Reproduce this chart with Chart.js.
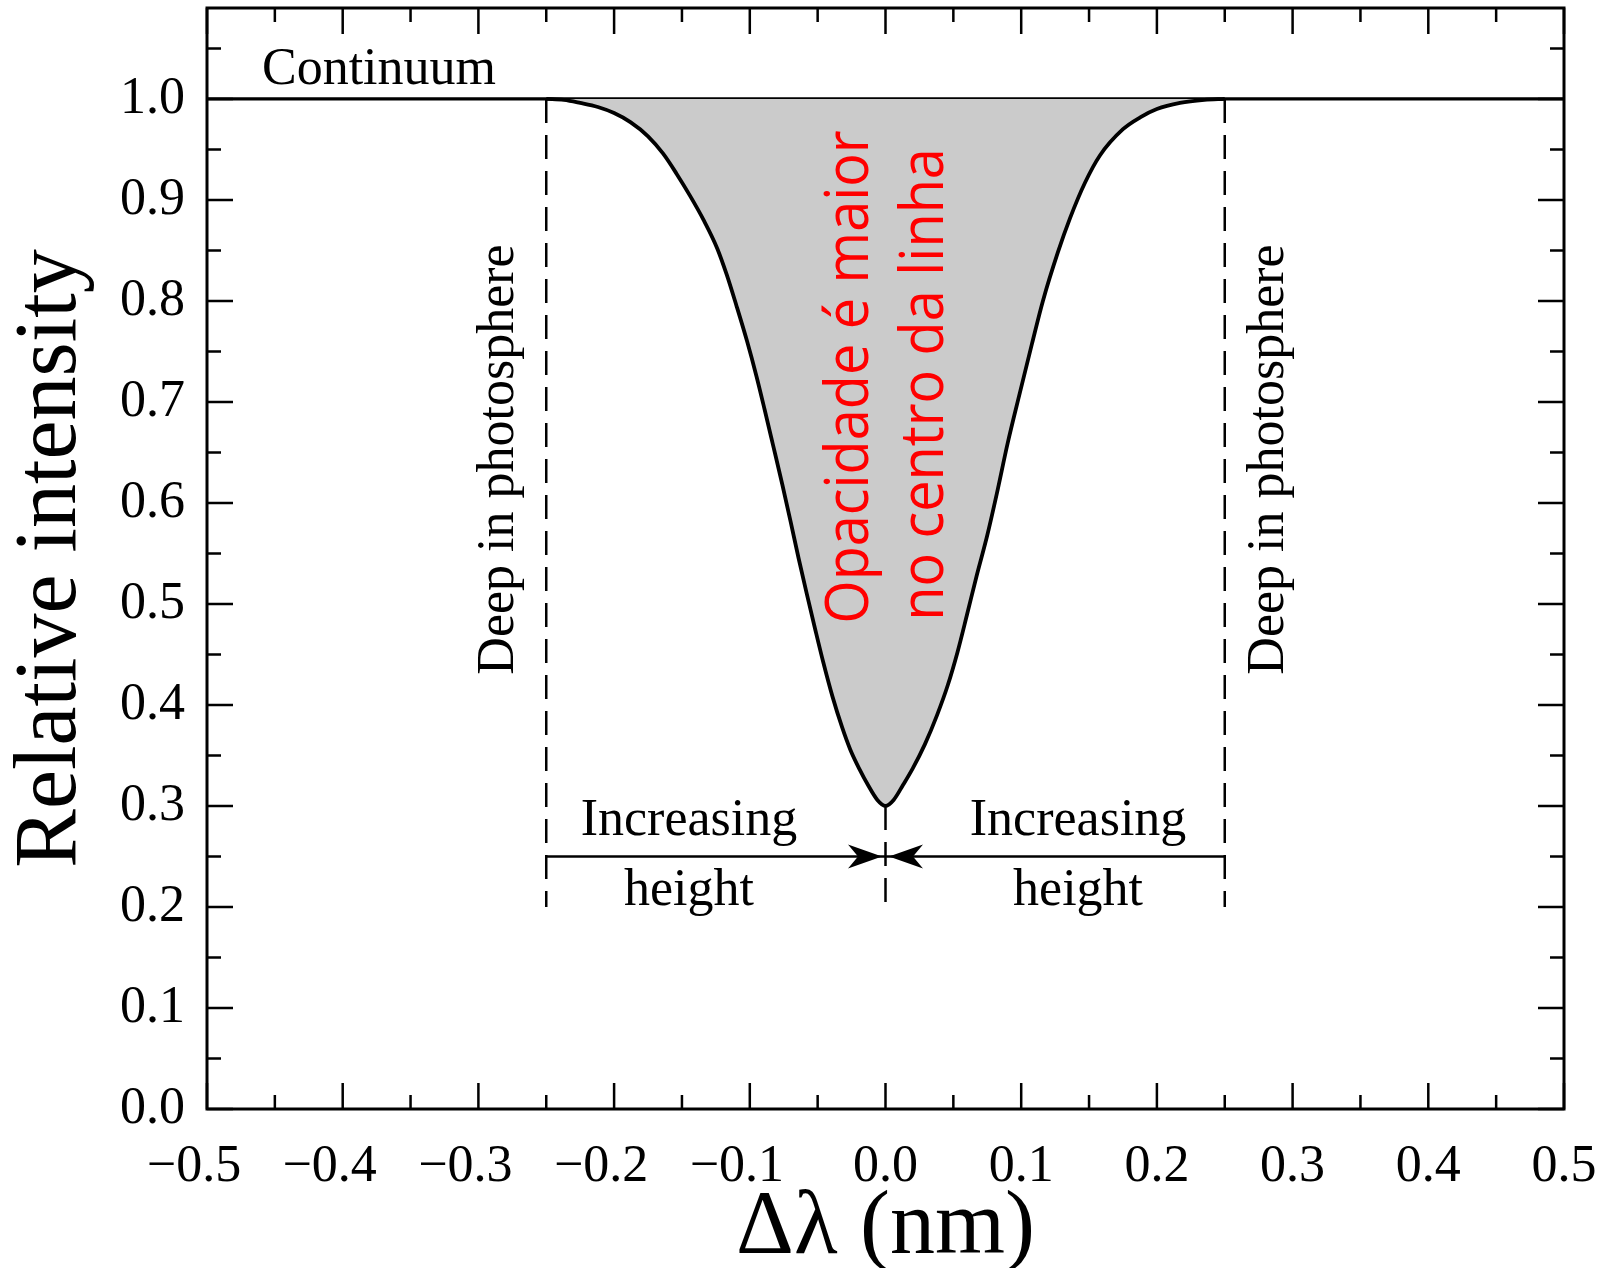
<!DOCTYPE html>
<html>
<head>
<meta charset="utf-8">
<script src="https://cdn.jsdelivr.net/npm/chart.js@4.4.1/dist/chart.umd.min.js"></script>
<style>
  html, body { margin: 0; padding: 0; background: #fff; }
  #wrap { width: 1606px; height: 1268px; }
</style>
</head>
<body>
<div id="wrap"><canvas id="myChart" width="1606" height="1268"></canvas></div>
<script>
        // absorption line profile
        const profileX = [-0.25, -0.237, -0.225, -0.212, -0.2, -0.188, -0.175, -0.164, -0.154, -0.144, -0.134, -0.124, -0.117, -0.11, -0.102, -0.095, -0.089, -0.083,
                          -0.076, -0.07, -0.064, -0.058, -0.052, -0.046, -0.039, -0.032, -0.026, -0.019, -0.013, -0.006, 0,
                          0.006, 0.013, 0.02, 0.029, 0.038, 0.046, 0.053, 0.06, 0.067, 0.075, 0.082, 0.09, 0.099, 0.108, 0.116, 0.127, 0.136, 0.147, 0.158,
                          0.175, 0.188, 0.2, 0.217, 0.235, 0.25];
        const profileY = [1.0, 0.999, 0.996, 0.992, 0.986, 0.977, 0.963, 0.946, 0.926, 0.904, 0.88, 0.852, 0.826, 0.796, 0.76, 0.725, 0.692, 0.658,
                          0.618, 0.582, 0.545, 0.51, 0.476, 0.443, 0.408, 0.378, 0.356, 0.336, 0.321, 0.306, 0.3,
                          0.306, 0.321, 0.337, 0.361, 0.39, 0.42, 0.452, 0.489, 0.527, 0.568, 0.609, 0.659, 0.709, 0.758, 0.8, 0.848, 0.882, 0.917, 0.944,
                          0.97, 0.982, 0.99, 0.996, 0.999, 1.0];

        const continuumX = [-0.5, 0.5];
        const continuumY = [1.0, 1.0];

        // dashed markers (x, top, bottom)
        const markerX = [-0.25, 0, 0.25];
        const markerTop = [1.0, 0.3, 1.0];
        const markerBottom = [0.2, 0.2, 0.2];

        // "increasing height" arrows
        const arrowY = 0.25;
        const arrowFrom = [-0.25, 0.25];
        const arrowTo = [0, 0];

        const xTickLabels = ['\u22120.5', '\u22120.4', '\u22120.3', '\u22120.2', '\u22120.1', '0.0', '0.1', '0.2', '0.3', '0.4', '0.5'];
        const yTickLabels = ['0.0', '0.1', '0.2', '0.3', '0.4', '0.5', '0.6', '0.7', '0.8', '0.9', '1.0'];

        const serif = "'Liberation Serif', 'Times New Roman', serif";

        // text placed on the plot (data units)
        const notes = [
            {text: 'Continuum', x: -0.4595, y: 1.0143, rot: 0, align: 'left', font: '52px ' + serif, color: '#000'},
            {text: 'Increasing', x: -0.1448, y: 0.2714, rot: 0, align: 'center', font: '52px ' + serif, color: '#000'},
            {text: 'height', x: -0.1448, y: 0.2021, rot: 0, align: 'center', font: '52px ' + serif, color: '#000'},
            {text: 'Increasing', x: 0.1419, y: 0.2714, rot: 0, align: 'center', font: '52px ' + serif, color: '#000'},
            {text: 'height', x: 0.1419, y: 0.2021, rot: 0, align: 'center', font: '52px ' + serif, color: '#000'},
            {text: 'Deep in photosphere', x: -0.2745, y: 0.43, rot: -90, align: 'left', font: '52px ' + serif, color: '#000'},
            {text: 'Deep in photosphere', x: 0.2929, y: 0.43, rot: -90, align: 'left', font: '52px ' + serif, color: '#000'},
            {text: 'Opacidade é maior', x: -0.0129, y: 0.4804, rot: -90, align: 'left', font: "60px 'Open Sans', sans-serif", color: '#ff0000', squeeze: 0.93},
            {text: 'no centro da linha', x: 0.0424, y: 0.4834, rot: -90, align: 'left', font: "60px 'Open Sans', sans-serif", color: '#ff0000', squeeze: 0.93}
        ];

        function pts(xs, ys) {
            return xs.map((v, i) => ({x: v, y: ys[i]}));
        }

        const datasets = [
            {data: pts(profileX, profileY), borderColor: '#000', borderWidth: 3.8, backgroundColor: '#cbcbcb',
             fill: {value: 1.0}, cubicInterpolationMode: 'monotone'},
            {data: pts(continuumX, continuumY), borderColor: '#000', borderWidth: 3.2}
        ];
        markerX.forEach((mx, i) => {
            datasets.push({data: [{x: mx, y: markerTop[i]}, {x: mx, y: markerBottom[i]}],
                borderColor: '#000', borderWidth: 2.5, borderDash: [24, 12]});
        });
        arrowFrom.forEach((ax, i) => {
            datasets.push({data: [{x: ax, y: arrowY}, {x: arrowTo[i], y: arrowY}],
                borderColor: '#000', borderWidth: 2.5, isArrow: true});
        });

        // frame, inward ticks, arrowheads and notes
        const decorations = {
            id: 'decorations',
            afterDatasetsDraw(chart) {
                const {ctx, chartArea: a, scales: {x, y}} = chart;
                ctx.save();

                // arrowheads
                ctx.fillStyle = '#000';
                chart.data.datasets.forEach(ds => {
                    if (!ds.isArrow) return;
                    const p0 = ds.data[0], p1 = ds.data[1];
                    const dir = Math.sign(p1.x - p0.x);
                    const tx = x.getPixelForValue(p1.x) - dir * 3.5;
                    const ty = y.getPixelForValue(p1.y);
                    ctx.beginPath();
                    ctx.moveTo(tx, ty);
                    ctx.lineTo(tx - dir * 34, ty - 12);
                    ctx.lineTo(tx - dir * 24, ty);
                    ctx.lineTo(tx - dir * 34, ty + 12);
                    ctx.closePath();
                    ctx.fill();
                });

                // ticks on all four sides
                ctx.strokeStyle = '#000';
                ctx.lineWidth = 2.5;
                const tickSet = (scale) => {
                    const vals = scale.ticks.map(t => t.value);
                    const step = vals[1] - vals[0];
                    const out = vals.map(v => ({v: v, major: true}));
                    for (let i = -1; i < vals.length; i++) {
                        const m = (i < 0 ? vals[0] - step : vals[i]) + step / 2;
                        if (m > scale.min && m < scale.max) out.push({v: m, major: false});
                    }
                    return out;
                };
                ctx.beginPath();
                tickSet(x).forEach(t => {
                    const px = x.getPixelForValue(t.v);
                    const len = t.major ? 26 : 14;
                    ctx.moveTo(px, a.bottom); ctx.lineTo(px, a.bottom - len);
                    ctx.moveTo(px, a.top); ctx.lineTo(px, a.top + len);
                });
                tickSet(y).forEach(t => {
                    const py = y.getPixelForValue(t.v);
                    const len = t.major ? 26 : 14;
                    ctx.moveTo(a.left, py); ctx.lineTo(a.left + len, py);
                    ctx.moveTo(a.right, py); ctx.lineTo(a.right - len, py);
                });
                ctx.stroke();

                ctx.lineWidth = 3;
                ctx.strokeRect(a.left, a.top, a.right - a.left, a.bottom - a.top);

                // notes
                notes.forEach(n => {
                    ctx.save();
                    ctx.translate(x.getPixelForValue(n.x), y.getPixelForValue(n.y));
                    ctx.rotate(n.rot * Math.PI / 180);
                    if (n.squeeze) ctx.scale(n.squeeze, 1);
                    ctx.font = n.font;
                    ctx.fillStyle = n.color;
                    ctx.textAlign = n.align;
                    ctx.textBaseline = 'alphabetic';
                    ctx.fillText(n.text, 0, 0);
                    ctx.restore();
                });
                ctx.restore();
            }
        };

        const ctx = document.getElementById('myChart').getContext('2d');

        const chart = new Chart(ctx, {
            type: 'scatter',
            data: {datasets: datasets},
            options: {
                responsive: false,
                animation: false,
                events: [],
                showLine: true,
                elements: {point: {radius: 0}, line: {tension: 0}},
                layout: {padding: {top: 8, right: 42, left: 0, bottom: 0}},
                plugins: {
                    legend: {display: false},
                    tooltip: {enabled: false}
                },
                scales: {
                    x: {
                        type: 'linear',
                        min: -0.5,
                        max: 0.5,
                        grid: {display: false},
                        border: {display: false},
                        ticks: {
                            stepSize: 0.1,
                            includeBounds: false,
                            autoSkip: false,
                            maxRotation: 0,
                            padding: 19,
                            color: '#000',
                            font: {family: serif, size: 52},
                            callback: (v, i) => xTickLabels[i] + (v < -0.001 ? '\u2007' : '')
                        },
                        title: {
                            display: true,
                            text: '\u0394\u03bb (nm)',
                            color: '#000',
                            padding: {top: 0, bottom: -6},
                            font: {family: serif, size: 90, lineHeight: 1}
                        },
                        afterFit: (s) => { s.height = 159; s.paddingLeft = 0; s.paddingRight = 0; }
                    },
                    y: {
                        type: 'linear',
                        min: 0,
                        max: 1.09,
                        grid: {display: false},
                        border: {display: false},
                        ticks: {
                            stepSize: 0.1,
                            includeBounds: false,
                            autoSkip: false,
                            padding: 14,
                            color: '#000',
                            font: {family: serif, size: 52},
                            callback: (v, i) => yTickLabels[i]
                        },
                        title: {
                            display: true,
                            text: 'Relative intensity',
                            color: '#000',
                            padding: {top: 8, bottom: 0},
                            font: {family: serif, size: 88, lineHeight: 1}
                        },
                        afterFit: (s) => { s.width = 207; s.paddingTop = 0; s.paddingBottom = 0; }
                    }
                }
            },
            plugins: [decorations]
        });
</script>
</body>
</html>
